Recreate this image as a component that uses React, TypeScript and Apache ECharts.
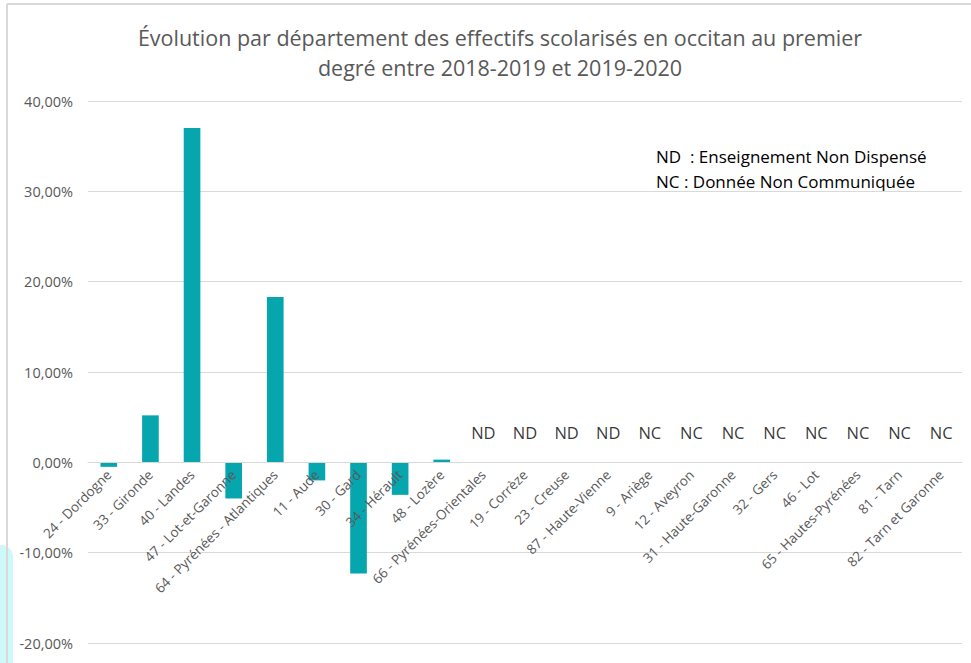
import React, { useEffect, useRef } from "react";
import * as echarts from "echarts";

const categories: string[] = [
  "24 - Dordogne",
  "33 - Gironde",
  "40 - Landes",
  "47 - Lot-et-Garonne",
  "64 - Pyrénées - Atlantiques",
  "11 - Aude",
  "30 - Gard",
  "34 - Hérault",
  "48 - Lozère",
  "66 - Pyrénées-Orientales",
  "19 - Corrèze",
  "23 - Creuse",
  "87 - Haute-Vienne",
  "9 - Ariège",
  "12 - Aveyron",
  "31 - Haute-Garonne",
  "32 - Gers",
  "46 - Lot",
  "65 - Hautes-Pyrénées",
  "81 - Tarn",
  "82 - Tarn et Garonne",
];

// Évolution en % (null = pas de valeur)
const evolution: (number | null)[] = [
  -0.5, 5.2, 37.0, -4.0, 18.3, -2.0, -12.3, -3.6, 0.3,
  null, null, null, null, null, null, null, null, null, null, null, null,
];

const status: string[] = [
  "", "", "", "", "", "", "", "", "",
  "ND", "ND", "ND", "ND", "NC", "NC", "NC", "NC", "NC", "NC", "NC", "NC",
];

const yTicks = { min: -20, max: 40, interval: 10 };

const titleLines = [
  "Évolution par département des effectifs scolarisés en occitan au premier",
  "degré entre 2018-2019 et 2019-2020",
];

const legendNotes = [
  "ND  : Enseignement Non Dispensé",
  "NC : Donnée Non Communiquée",
];

const FONT = "'Open Sans', 'Noto Sans', sans-serif";

const GRID_TOP = 101;
const GRID_BOTTOM = 20;
const CHART_H = 663;

export default function App() {
  const ref = useRef<HTMLDivElement>(null);

  useEffect(() => {
    if (!ref.current) return;
    const chart = echarts.init(ref.current, null, { renderer: "svg" });
    const plotH = CHART_H - GRID_TOP - GRID_BOTTOM;
    const zeroFromBottom = (plotH * (0 - yTicks.min)) / (yTicks.max - yTicks.min);
    chart.setOption({
      animation: false,
      backgroundColor: "#ffffff",
      textStyle: { fontFamily: FONT },
      title: {
        text: titleLines.join("\n"),
        left: 495,
        top: 17,
        textAlign: "center",
        textStyle: {
          fontFamily: FONT,
          fontSize: 21.5,
          fontWeight: "normal",
          color: "#595959",
          lineHeight: 30,
        },
      },
      grid: {
        left: 88,
        right: 9,
        top: GRID_TOP,
        bottom: GRID_BOTTOM,
        containLabel: false,
        outerBoundsMode: "none",
      },
      xAxis: {
        type: "category",
        data: categories,
        offset: -zeroFromBottom,
        z: 10,
        axisTick: { show: false },
        axisLine: { onZero: false, lineStyle: { color: "#D9D9D9", width: 1 } },
        axisLabel: {
          interval: 0,
          rotate: 45,
          margin: 10,
          color: "#595959",
          fontSize: 13.5,
          fontFamily: FONT,
        },
      },
      yAxis: {
        type: "value",
        min: yTicks.min,
        max: yTicks.max,
        interval: yTicks.interval,
        axisLine: { show: false },
        axisTick: { show: false },
        splitLine: { lineStyle: { color: "#D9D9D9", width: 1 } },
        axisLabel: {
          margin: 15,
          color: "#595959",
          fontSize: 14.5,
          fontFamily: FONT,
          formatter: (v: number) => v.toFixed(2).replace(".", ",") + "%",
        },
      },
      series: [
        {
          type: "bar",
          z: 1,
          data: evolution.map((v) => (v === null ? "-" : v)),
          barWidth: "40%",
          itemStyle: { color: "#05A6AE" },
        },
        {
          type: "scatter",
          data: status.map((s) => (s ? 0 : "-")),
          symbolSize: 1,
          itemStyle: { color: "rgba(0,0,0,0)" },
          label: {
            show: true,
            position: "inside",
            offset: [0, -30],
            color: "#000000",
            fontSize: 16.5,
            fontFamily: FONT,
            formatter: (p: any) => status[p.dataIndex],
          },
        },
      ],
      graphic: [
        {
          type: "rect",
          shape: { x: -12, y: 545, width: 25, height: 140, r: 12 },
          style: { fill: "#CFF8F9" },
          silent: true,
        },
        {
          type: "line",
          shape: { x1: 7, y1: 4, x2: 971, y2: 4 },
          style: { stroke: "#D9D9D9", lineWidth: 2 },
          silent: true,
        },
        {
          type: "line",
          shape: { x1: 7, y1: 4, x2: 7, y2: 663 },
          style: { stroke: "#D9D9D9", lineWidth: 2 },
          silent: true,
        },
        {
          type: "text",
          left: 656,
          top: 144,
          style: {
            text: legendNotes.join("\n"),
            fontSize: 17,
            lineHeight: 25,
            fontFamily: FONT,
            fill: "#000000",
          },
          silent: true,
        },
      ],
    });
    return () => chart.dispose();
  }, []);

  return (
    <div
      ref={ref}
      style={{ position: "fixed", left: 0, top: 0, width: 971, height: 663 }}
    />
  );
}
